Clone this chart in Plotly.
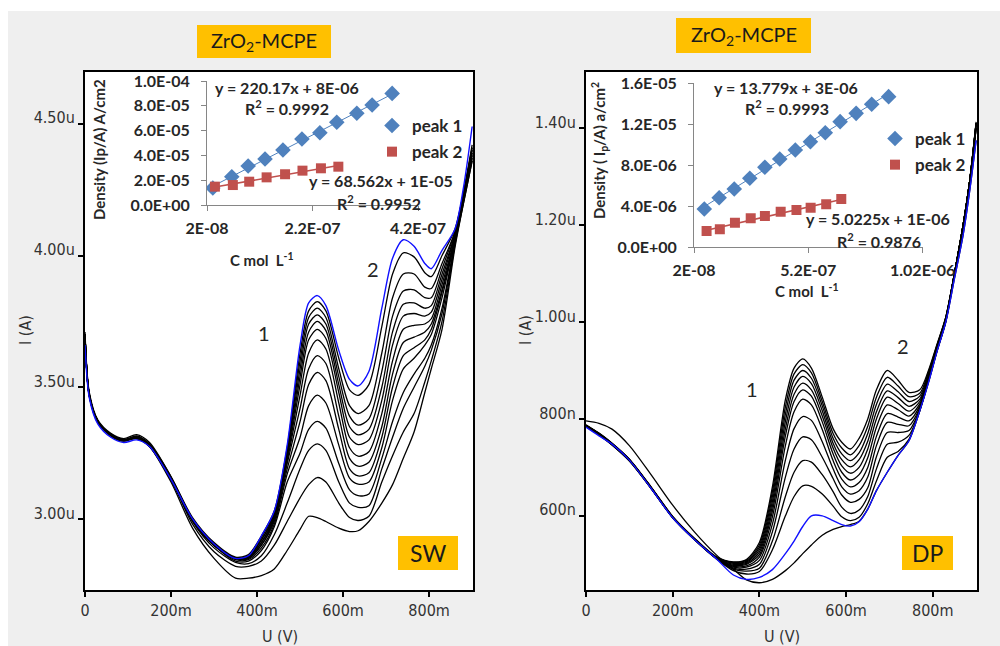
import numpy as np
import plotly.graph_objects as go

W, H = 1000, 646

# ---------------- Square-wave voltammograms (U in mV, I in µA) ----------------
sw_potential = [0, 10, 30, 60, 90, 120, 150, 200, 250, 300, 350, 380, 410, 440, 470, 500, 520,
                540, 560, 590, 615, 635, 660, 690, 715, 740, 765, 790, 805, 830, 860, 880, 900]

sw_blue = [3.66, 3.46, 3.36, 3.31, 3.29, 3.30, 3.275, 3.15, 3.00, 2.905, 2.85, 2.86, 2.935, 3.03,
           3.28, 3.66, 3.82, 3.848, 3.81, 3.64, 3.53, 3.505, 3.56, 3.80, 3.99, 4.06, 4.035, 3.97,
           3.95, 4.02, 4.10, 4.26, 4.49]

sw_black = [
    [3.71, 3.48, 3.375, 3.325, 3.305, 3.32, 3.29, 3.16, 3.005, 2.91, 2.855, 2.865, 2.935, 3.03, 3.27,
     3.63, 3.79, 3.825, 3.79, 3.61, 3.49, 3.469, 3.51, 3.73, 3.93, 4.01, 3.995, 3.935, 3.92, 4.00,
     4.10, 4.24, 4.42],
    [3.70, 3.475, 3.37, 3.32, 3.30, 3.315, 3.285, 3.16, 3.00, 2.905, 2.85, 2.86, 2.93, 3.02, 3.26,
     3.60, 3.765, 3.80, 3.765, 3.57, 3.43, 3.40, 3.43, 3.63, 3.84, 3.93, 3.93, 3.88, 3.875, 3.97,
     4.09, 4.24, 4.41],
    [3.69, 3.47, 3.365, 3.32, 3.30, 3.31, 3.28, 3.155, 3.00, 2.905, 2.85, 2.86, 2.92, 3.02, 3.25,
     3.57, 3.74, 3.775, 3.74, 3.54, 3.39, 3.356, 3.38, 3.56, 3.77, 3.865, 3.87, 3.84, 3.84, 3.95,
     4.09, 4.23, 4.41],
    [3.70, 3.465, 3.37, 3.315, 3.295, 3.31, 3.28, 3.155, 2.995, 2.90, 2.85, 2.855, 2.92, 3.01, 3.24,
     3.54, 3.71, 3.75, 3.715, 3.51, 3.35, 3.319, 3.34, 3.50, 3.71, 3.815, 3.82, 3.80, 3.81, 3.93,
     4.08, 4.23, 4.40],
    [3.70, 3.47, 3.37, 3.32, 3.30, 3.305, 3.275, 3.15, 2.995, 2.90, 2.85, 2.855, 2.91, 3.01, 3.23,
     3.51, 3.68, 3.72, 3.685, 3.48, 3.31, 3.282, 3.30, 3.45, 3.66, 3.77, 3.78, 3.77, 3.785, 3.91,
     4.08, 4.23, 4.40],
    [3.695, 3.465, 3.365, 3.315, 3.295, 3.305, 3.275, 3.15, 2.995, 2.90, 2.85, 2.85, 2.91, 3.00, 3.22,
     3.47, 3.63, 3.68, 3.645, 3.44, 3.27, 3.238, 3.255, 3.40, 3.60, 3.72, 3.735, 3.74, 3.76, 3.89,
     4.07, 4.22, 4.39],
    [3.70, 3.47, 3.37, 3.32, 3.30, 3.31, 3.28, 3.15, 2.995, 2.90, 2.85, 2.85, 2.90, 3.00, 3.21,
     3.42, 3.57, 3.62, 3.59, 3.39, 3.23, 3.20, 3.215, 3.35, 3.55, 3.67, 3.69, 3.71, 3.74, 3.87,
     4.07, 4.22, 4.39],
    [3.70, 3.47, 3.37, 3.32, 3.30, 3.31, 3.28, 3.15, 2.995, 2.90, 2.85, 2.85, 2.90, 2.99, 3.19,
     3.37, 3.51, 3.556, 3.525, 3.34, 3.19, 3.163, 3.175, 3.31, 3.50, 3.62, 3.65, 3.68, 3.72, 3.86,
     4.06, 4.22, 4.38],
    [3.70, 3.47, 3.37, 3.32, 3.30, 3.31, 3.28, 3.15, 2.995, 2.90, 2.845, 2.845, 2.89, 2.98, 3.17,
     3.31, 3.43, 3.47, 3.44, 3.28, 3.155, 3.132, 3.14, 3.27, 3.45, 3.57, 3.61, 3.66, 3.70, 3.84,
     4.06, 4.21, 4.38],
    [3.70, 3.47, 3.37, 3.32, 3.30, 3.31, 3.28, 3.15, 2.995, 2.90, 2.84, 2.84, 2.88, 2.97, 3.14,
     3.25, 3.34, 3.37, 3.345, 3.21, 3.11, 3.088, 3.095, 3.23, 3.37, 3.48, 3.55, 3.61, 3.66, 3.80,
     4.05, 4.21, 4.37],
    [3.70, 3.47, 3.37, 3.32, 3.30, 3.31, 3.28, 3.155, 2.99, 2.89, 2.835, 2.83, 2.86, 2.94, 3.06,
     3.19, 3.26, 3.285, 3.26, 3.14, 3.06, 3.044, 3.05, 3.19, 3.31, 3.42, 3.50, 3.58, 3.64, 3.78,
     4.05, 4.21, 4.37],
    [3.70, 3.47, 3.37, 3.32, 3.30, 3.31, 3.28, 3.15, 2.98, 2.875, 2.82, 2.82, 2.84, 2.90, 2.99,
     3.08, 3.13, 3.157, 3.14, 3.06, 3.005, 2.994, 3.01, 3.14, 3.24, 3.33, 3.40, 3.52, 3.60, 3.75,
     4.04, 4.20, 4.36],
    [3.70, 3.47, 3.37, 3.32, 3.30, 3.31, 3.275, 3.14, 2.965, 2.85, 2.775, 2.775, 2.785, 2.81, 2.88,
     2.96, 3.01, 3.005, 2.99, 2.965, 2.952, 2.955, 2.99, 3.06, 3.13, 3.23, 3.33, 3.48, 3.57, 3.72,
     4.03, 4.20, 4.36],
]

# ---------------- Differential-pulse voltammograms (U in mV, I in µA) ----------------
dp_potential = [0, 30, 60, 100, 150, 200, 250, 300, 340, 370, 400, 430, 460, 480, 500, 520, 545,
                570, 590, 610, 630, 650, 670, 695, 720, 745, 770, 790, 810, 830, 850, 870, 885, 900]

dp_blue = [0.783, 0.765, 0.748, 0.715, 0.657, 0.596, 0.551, 0.512, 0.478, 0.469, 0.473, 0.489,
           0.522, 0.548, 0.578, 0.600, 0.600, 0.590, 0.582, 0.579, 0.588, 0.614, 0.652, 0.690,
           0.725, 0.755, 0.817, 0.875, 0.940, 1.000, 1.090, 1.180, 1.270, 1.375]

dp_black = [
    [0.787, 0.771, 0.750, 0.717, 0.660, 0.599, 0.554, 0.516, 0.505, 0.510, 0.545, 0.660, 0.840,
     0.905, 0.924, 0.905, 0.845, 0.780, 0.752, 0.738, 0.760, 0.800, 0.860, 0.900, 0.880, 0.855,
     0.860, 0.900, 0.955, 1.010, 1.100, 1.200, 1.290, 1.413],
    [0.788, 0.770, 0.749, 0.716, 0.659, 0.598, 0.553, 0.515, 0.504, 0.508, 0.540, 0.650, 0.825,
     0.893, 0.912, 0.895, 0.836, 0.770, 0.740, 0.726, 0.745, 0.785, 0.845, 0.886, 0.868, 0.846,
     0.853, 0.897, 0.953, 1.010, 1.100, 1.200, 1.290, 1.410],
    [0.786, 0.770, 0.750, 0.717, 0.659, 0.598, 0.553, 0.515, 0.503, 0.506, 0.535, 0.640, 0.810,
     0.880, 0.900, 0.884, 0.827, 0.760, 0.728, 0.714, 0.730, 0.770, 0.830, 0.872, 0.856, 0.836,
     0.847, 0.894, 0.951, 1.009, 1.100, 1.200, 1.290, 1.410],
    [0.787, 0.769, 0.748, 0.715, 0.658, 0.597, 0.552, 0.514, 0.502, 0.504, 0.530, 0.630, 0.795,
     0.866, 0.888, 0.873, 0.817, 0.750, 0.716, 0.701, 0.716, 0.754, 0.815, 0.858, 0.844, 0.826,
     0.841, 0.891, 0.949, 1.008, 1.100, 1.200, 1.290, 1.410],
    [0.786, 0.770, 0.749, 0.716, 0.659, 0.598, 0.553, 0.514, 0.500, 0.502, 0.525, 0.620, 0.780,
     0.851, 0.874, 0.860, 0.806, 0.740, 0.703, 0.688, 0.700, 0.738, 0.800, 0.845, 0.832, 0.816,
     0.836, 0.889, 0.947, 1.007, 1.100, 1.200, 1.290, 1.410],
    [0.787, 0.769, 0.749, 0.716, 0.658, 0.597, 0.552, 0.514, 0.498, 0.500, 0.520, 0.610, 0.765,
     0.836, 0.860, 0.847, 0.794, 0.728, 0.690, 0.674, 0.685, 0.720, 0.783, 0.829, 0.819, 0.806,
     0.831, 0.887, 0.946, 1.006, 1.100, 1.200, 1.290, 1.410],
    [0.786, 0.769, 0.748, 0.715, 0.658, 0.597, 0.552, 0.513, 0.496, 0.497, 0.515, 0.598, 0.745,
     0.815, 0.841, 0.829, 0.778, 0.714, 0.676, 0.660, 0.669, 0.700, 0.764, 0.811, 0.804, 0.796,
     0.827, 0.885, 0.945, 1.005, 1.100, 1.200, 1.290, 1.410],
    [0.786, 0.768, 0.748, 0.715, 0.658, 0.597, 0.552, 0.513, 0.494, 0.494, 0.508, 0.583, 0.715,
     0.780, 0.805, 0.797, 0.753, 0.697, 0.660, 0.645, 0.652, 0.680, 0.745, 0.793, 0.789, 0.786,
     0.823, 0.883, 0.944, 1.004, 1.100, 1.200, 1.290, 1.400],
    [0.785, 0.768, 0.747, 0.714, 0.657, 0.597, 0.552, 0.513, 0.492, 0.490, 0.500, 0.567, 0.680,
     0.738, 0.763, 0.757, 0.721, 0.677, 0.643, 0.628, 0.634, 0.658, 0.722, 0.772, 0.772, 0.776,
     0.820, 0.881, 0.943, 1.003, 1.100, 1.200, 1.290, 1.400],
    [0.785, 0.767, 0.747, 0.714, 0.657, 0.596, 0.551, 0.512, 0.490, 0.486, 0.492, 0.548, 0.640,
     0.690, 0.714, 0.711, 0.685, 0.650, 0.618, 0.605, 0.612, 0.640, 0.697, 0.748, 0.752, 0.766,
     0.818, 0.879, 0.942, 1.002, 1.100, 1.200, 1.290, 1.400],
    [0.784, 0.767, 0.746, 0.713, 0.657, 0.596, 0.551, 0.512, 0.487, 0.480, 0.485, 0.530, 0.600,
     0.640, 0.662, 0.661, 0.645, 0.620, 0.598, 0.590, 0.597, 0.625, 0.672, 0.721, 0.733, 0.758,
     0.817, 0.877, 0.941, 1.001, 1.100, 1.200, 1.290, 1.400],
    [0.796, 0.791, 0.779, 0.745, 0.685, 0.622, 0.567, 0.520, 0.490, 0.468, 0.462, 0.469, 0.487,
     0.503, 0.522, 0.540, 0.560, 0.572, 0.578, 0.582, 0.589, 0.614, 0.652, 0.690, 0.725, 0.755,
     0.817, 0.875, 0.940, 1.000, 1.090, 1.180, 1.270, 1.375],
]

# ---------------- Calibration plots (C in mol/L, current density) ----------------
sw_conc_p1 = [3.1e-8, 6.7e-8, 9.8e-8, 1.30e-7, 1.64e-7, 2.00e-7, 2.34e-7, 2.66e-7, 3.04e-7, 3.33e-7, 3.71e-7]
sw_dens_p1 = [1.37e-5, 2.28e-5, 3.15e-5, 3.71e-5, 4.44e-5, 5.32e-5, 5.83e-5, 6.67e-5, 7.40e-5, 8.06e-5, 9.00e-5]
sw_conc_p2 = [3.5e-8, 6.9e-8, 1.00e-7, 1.33e-7, 1.68e-7, 2.01e-7, 2.36e-7, 2.69e-7]
sw_dens_p2 = [1.48e-5, 1.61e-5, 1.88e-5, 2.23e-5, 2.48e-5, 2.77e-5, 2.96e-5, 3.09e-5]

dp_conc_p1 = [6.5e-8, 1.30e-7, 1.96e-7, 2.64e-7, 3.30e-7, 3.95e-7, 4.63e-7, 5.29e-7, 5.94e-7,
              6.59e-7, 7.29e-7, 7.97e-7, 8.71e-7]
dp_dens_p1 = [3.71e-6, 4.81e-6, 5.66e-6, 6.70e-6, 7.78e-6, 8.59e-6, 9.46e-6, 1.027e-5, 1.115e-5,
              1.223e-5, 1.304e-5, 1.392e-5, 1.467e-5]
dp_conc_p2 = [7.5e-8, 1.33e-7, 1.99e-7, 2.68e-7, 3.30e-7, 3.99e-7, 4.68e-7, 5.30e-7, 5.98e-7, 6.64e-7]
dp_dens_p2 = [1.56e-6, 1.73e-6, 2.37e-6, 2.80e-6, 3.02e-6, 3.44e-6, 3.61e-6, 3.83e-6, 4.17e-6, 4.68e-6]

sw_fit_labels = ["y = 220.17x + 8E-06", "R<sup>2</sup> = 0.9992",
                 "y = 68.562x + 1E-05", "R<sup>2</sup> = 0.9952"]
dp_fit_labels = ["y = 13.779x + 3E-06", "R<sup>2</sup> = 0.9993",
                 "y = 5.0225x + 1E-06", "R<sup>2</sup> = 0.9876"]

# ---------------- Tick labels ----------------
main_x_ticks = [0, 200, 400, 600, 800]
main_x_text = ["0", "200m", "400m", "600m", "800m"]
sw_y_ticks = [3.0, 3.5, 4.0, 4.5]
sw_y_text = ["3.00u", "3.50u", "4.00u", "4.50u"]
dp_y_ticks = [0.6, 0.8, 1.0, 1.2, 1.4]
dp_y_text = ["600n", "800n", "1.00u", "1.20u", "1.40u"]
sw_in_x_ticks = [2e-8, 2.2e-7, 4.2e-7]
sw_in_x_text = ["2E-08", "2.2E-07", "4.2E-07"]
sw_in_y_ticks = [0, 2e-5, 4e-5, 6e-5, 8e-5, 1e-4]
sw_in_y_text = ["0.0E+00", "2.0E-05", "4.0E-05", "6.0E-05", "8.0E-05", "1.0E-04"]
dp_in_x_ticks = [2e-8, 5.2e-7, 1.02e-6]
dp_in_x_text = ["2E-08", "5.2E-07", "1.02E-06"]
dp_in_y_ticks = [0, 4e-6, 8e-6, 1.2e-5, 1.6e-5]
dp_in_y_text = ["0.0E+00", "4.0E-06", "8.0E-06", "1.2E-05", "1.6E-05"]

# ---------------- Styling ----------------
BLUE_P1 = "#4F81BD"
RED_P2 = "#C0504D"
ORANGE = "#FFC000"
NUM_FONT = "Liberation Sans Narrow, DejaVu Sans Condensed, Liberation Sans, sans-serif"
CAL_FONT = "Lato, Carlito, Open Sans, sans-serif"


def fx(p):
    return p / W


def fy(p):
    return 1 - p / H


fig = go.Figure()

# voltammogram families
for curve in sw_black:
    fig.add_trace(go.Scatter(x=sw_potential, y=curve, mode="lines", xaxis="x", yaxis="y",
                             line=dict(color="black", width=1.3, shape="spline", smoothing=0.8),
                             showlegend=False, hoverinfo="skip"))
fig.add_trace(go.Scatter(x=sw_potential, y=sw_blue, mode="lines", xaxis="x", yaxis="y",
                         line=dict(color="#1010ff", width=1.4, shape="spline", smoothing=0.8),
                         showlegend=False, hoverinfo="skip"))
for curve in dp_black:
    fig.add_trace(go.Scatter(x=dp_potential, y=curve, mode="lines", xaxis="x2", yaxis="y2",
                             line=dict(color="black", width=1.3, shape="spline", smoothing=0.8),
                             showlegend=False, hoverinfo="skip"))
fig.add_trace(go.Scatter(x=dp_potential, y=dp_blue, mode="lines", xaxis="x2", yaxis="y2",
                         line=dict(color="#1010ff", width=1.4, shape="spline", smoothing=0.8),
                         showlegend=False, hoverinfo="skip"))


def calib(conc, dens, color, symbol, size, name, xa, ya, legend, lw):
    slope, icpt = np.polyfit(conc, dens, 1)
    xs = np.array([min(conc), max(conc)])
    fig.add_trace(go.Scatter(x=xs, y=slope * xs + icpt, mode="lines", xaxis=xa, yaxis=ya,
                             line=dict(color=color, width=lw), showlegend=False, hoverinfo="skip"))
    fig.add_trace(go.Scatter(x=conc, y=dens, mode="markers", xaxis=xa, yaxis=ya, name=name,
                             marker=dict(color=color, symbol=symbol, size=size, line=dict(width=0)),
                             legend=legend, legendgroup=name + legend))


calib(sw_conc_p1, sw_dens_p1, BLUE_P1, "diamond", 12, "peak 1", "x3", "y3", "legend", 1)
calib(sw_conc_p2, sw_dens_p2, RED_P2, "square", 10, "peak 2", "x3", "y3", "legend", 1.6)
calib(dp_conc_p1, dp_dens_p1, BLUE_P1, "diamond", 12, "peak 1", "x4", "y4", "legend2", 1)
calib(dp_conc_p2, dp_dens_p2, RED_P2, "square", 10, "peak 2", "x4", "y4", "legend2", 1.6)

main_axis = dict(showline=True, linecolor="black", linewidth=2, mirror=True, ticks="outside",
                 ticklen=5, tickwidth=1.5, tickcolor="black", showgrid=False, zeroline=False,
                 automargin=False, tickmode="array",
                 tickfont=dict(family=NUM_FONT, size=16, color="#333333"))
inset_axis = dict(showline=True, linecolor="#868686", linewidth=1, ticks="outside", ticklen=5,
                  tickcolor="#868686", showgrid=False, zeroline=False, automargin=False,
                  tickmode="array",
                  tickfont=dict(family=CAL_FONT, size=16, color="#262626", weight="bold"))

legend_style = dict(bgcolor="rgba(0,0,0,0)", font=dict(family=CAL_FONT, size=17, color="#262626",
                                                        weight="bold"),
                    xanchor="left", yanchor="top", tracegroupgap=1, itemwidth=30)

fig.update_layout(
    width=W, height=H, autosize=False, template="none",
    margin=dict(l=0, r=0, t=0, b=0),
    paper_bgcolor="#efefef", plot_bgcolor="white",
    xaxis=dict(main_axis, domain=[fx(85), fx(473)], range=[0, 902], anchor="y",
               tickvals=main_x_ticks, ticktext=main_x_text),
    yaxis=dict(main_axis, domain=[fy(590), fy(72)], range=[2.73, 4.697], anchor="x",
               tickvals=sw_y_ticks, ticktext=sw_y_text, ticklabelshift=-6),
    xaxis2=dict(main_axis, domain=[fx(586), fx(977)], range=[0, 902], anchor="y2",
                tickvals=main_x_ticks, ticktext=main_x_text),
    yaxis2=dict(main_axis, domain=[fy(590), fy(72)], range=[0.447, 1.516], anchor="x2",
                tickvals=dp_y_ticks, ticktext=dp_y_text, ticklabelshift=-6),
    xaxis3=dict(inset_axis, domain=[fx(207), fx(418)], range=[2e-8, 4.2e-7], anchor="y3",
                tickvals=sw_in_x_ticks, ticktext=sw_in_x_text, ticklabelstandoff=4),
    yaxis3=dict(inset_axis, domain=[fy(205), fy(81)], range=[0, 1e-4], anchor="x3",
                tickvals=sw_in_y_ticks, ticktext=sw_in_y_text, ticklabelstandoff=8),
    xaxis4=dict(inset_axis, domain=[fx(694), fx(922.7)], range=[2e-8, 1.02e-6], anchor="y4",
                tickvals=dp_in_x_ticks, ticktext=dp_in_x_text, ticklabelstandoff=4),
    yaxis4=dict(inset_axis, domain=[fy(247), fy(83)], range=[0, 1.6e-5], anchor="x4",
                tickvals=dp_in_y_ticks, ticktext=dp_in_y_text, ticklabelstandoff=8),
    legend=dict(legend_style, x=fx(372), y=fy(108)),
    legend2=dict(legend_style, x=fx(875), y=fy(121)),
)

# white border strips around the grey canvas
fig.add_shape(type="rect", xref="paper", yref="paper", x0=0, x1=1, y0=fy(11), y1=1,
              fillcolor="white", line_width=0, layer="below")
fig.add_shape(type="rect", xref="paper", yref="paper", x0=0, x1=fx(8), y0=0, y1=1,
              fillcolor="white", line_width=0, layer="below")

# orange tag boxes
tags = [(197, 331, 25, 58, "ZrO<sub>2</sub>-MCPE", 20),
        (676, 811, 18, 53, "ZrO<sub>2</sub>-MCPE", 20),
        (398, 458, 536, 570, "SW", 23),
        (902, 953, 536, 570, "DP", 23)]
for x0, x1, y0, y1, txt, sz in tags:
    fig.add_shape(type="rect", xref="paper", yref="paper", x0=fx(x0), x1=fx(x1), y0=fy(y1),
                  y1=fy(y0), fillcolor=ORANGE, line_width=0, layer="above")
    fig.add_annotation(xref="paper", yref="paper", x=fx((x0 + x1) / 2), y=fy((y0 + y1) / 2),
                       text=txt, showarrow=False, xanchor="center", yanchor="middle",
                       font=dict(family=CAL_FONT, size=sz, color="#1a1a1a"))


def label(x, y, text, size, family=CAL_FONT, color="#262626", weight="normal", angle=0):
    fig.add_annotation(xref="paper", yref="paper", x=fx(x), y=fy(y), text=text,
                       showarrow=False, xanchor="center", yanchor="middle", textangle=angle,
                       font=dict(family=family, size=size, color=color, weight=weight))


# peak numbers
label(264, 333, "1", 20)
label(373, 269, "2", 20)
label(752, 389, "1", 20)
label(903, 346, "2", 20)

# main axis titles
label(25, 330, "I (A)", 16, family=NUM_FONT, color="#333333", angle=-90)
label(525, 330, "I (A)", 16, family=NUM_FONT, color="#333333", angle=-90)
label(280, 636, "U (V)", 16, family=NUM_FONT, color="#333333")
label(782, 636, "U (V)", 16, family=NUM_FONT, color="#333333")

# inset titles
label(262, 259, "C mol  L<sup>-1</sup>", 15, weight="bold")
label(807, 290, "C mol  L<sup>-1</sup>", 15, weight="bold")
label(99, 150, "Density (Ip/A) A/cm2", 15, weight="bold", angle=-90)
label(599, 151, "Density ( I<sub>p</sub>/A) a/cm<sup>2</sup>", 15, weight="bold", angle=-90)

# regression equations
label(287, 87, sw_fit_labels[0], 16, weight="bold")
label(287, 108, sw_fit_labels[1], 16, weight="bold")
label(381, 180, sw_fit_labels[2], 16, weight="bold")
label(379, 202, sw_fit_labels[3], 16, weight="bold")
label(786, 87, dp_fit_labels[0], 16, weight="bold")
label(787, 108, dp_fit_labels[1], 16, weight="bold")
label(878, 219, dp_fit_labels[2], 16, weight="bold")
label(879, 241, dp_fit_labels[3], 16, weight="bold")

fig.write_html("out.html")
